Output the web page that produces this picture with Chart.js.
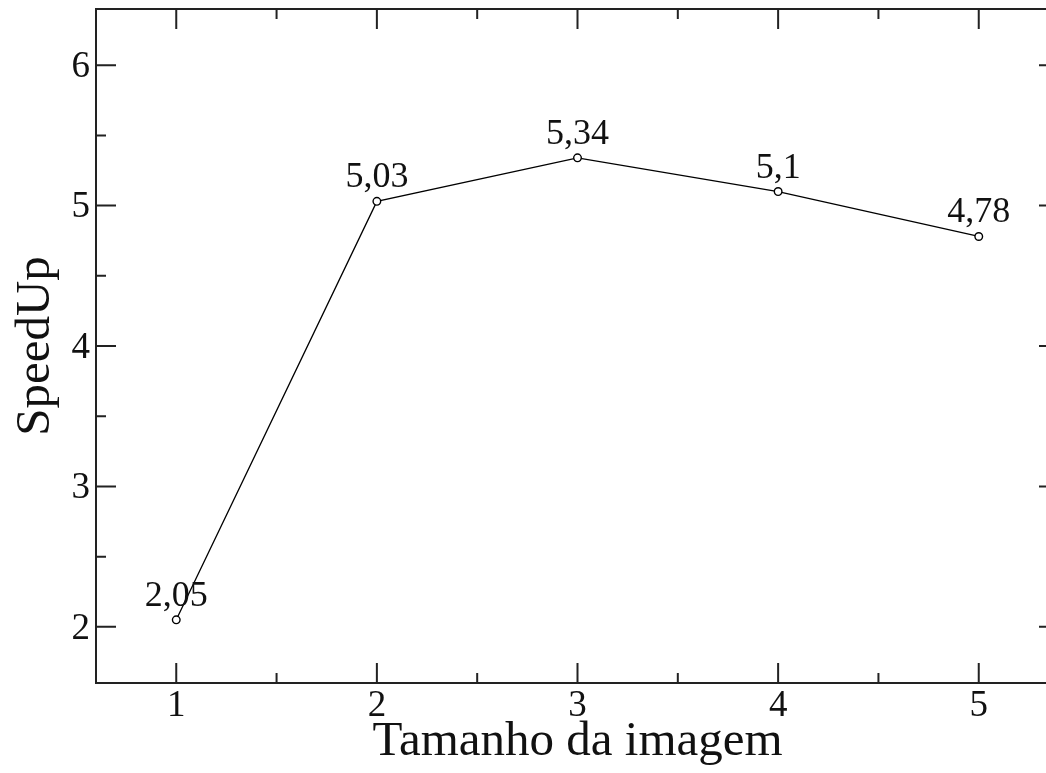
<!DOCTYPE html>
<html>
<head>
<meta charset="utf-8">
<script src="https://cdn.jsdelivr.net/npm/chart.js@4"></script>
<style>
  html, body { margin: 0; padding: 0; background: #fff; overflow: hidden; }
  #wrap { position: absolute; left: 0; top: 0; width: 1070px; height: 773px; }
</style>
</head>
<body>
<div id="wrap"><canvas id="speedup"></canvas></div>
<script>
// data
const sizes = [1, 2, 3, 4, 5];
const speedup = [2.05, 5.03, 5.34, 5.1, 4.78];

// axis ticks
const xTicks = [1, 2, 3, 4, 5];
const yTicks = [2, 3, 4, 5, 6];
const xMinor = [1.5, 2.5, 3.5, 4.5];
const yMinor = [2.5, 3.5, 4.5, 5.5];

const serif = '"Liberation Serif", "DejaVu Serif", serif';
const ink = '#111';

/* frame with inward ticks on all four sides */
const framePlugin = {
    id: 'frame',
    afterDraw(chart) {
        const { ctx, chartArea: a, scales: { x, y } } = chart;
        ctx.save();
        ctx.strokeStyle = '#222';
        ctx.lineWidth = 2;
        ctx.strokeRect(a.left, a.top, a.right - a.left, a.bottom - a.top);

        const tickX = (vals, len) => {
            vals.forEach(v => {
                const px = x.getPixelForValue(v);
                ctx.beginPath();
                ctx.moveTo(px, a.bottom); ctx.lineTo(px, a.bottom - len);
                ctx.moveTo(px, a.top); ctx.lineTo(px, a.top + len);
                ctx.stroke();
            });
        };
        const tickY = (vals, len) => {
            vals.forEach(v => {
                const py = y.getPixelForValue(v);
                ctx.beginPath();
                ctx.moveTo(a.left, py); ctx.lineTo(a.left + len, py);
                ctx.moveTo(a.right, py); ctx.lineTo(a.right - len, py);
                ctx.stroke();
            });
        };
        tickX(xTicks, 20);
        tickX(xMinor, 10);
        tickY(yTicks, 20);
        tickY(yMinor, 10);
        ctx.restore();
    }
};

/* value labels above each point, with decimal comma */
const valueLabels = {
    id: 'valueLabels',
    afterDatasetsDraw(chart) {
        const { ctx } = chart;
        const meta = chart.getDatasetMeta(0);
        ctx.save();
        ctx.font = '36px ' + serif;
        ctx.fillStyle = ink;
        ctx.textAlign = 'center';
        ctx.textBaseline = 'alphabetic';
        meta.data.forEach((pt, i) => {
            const txt = String(speedup[i]).replace('.', ',');
            ctx.fillText(txt, pt.x, pt.y - 14);
        });
        ctx.restore();
    }
};

new Chart(document.getElementById('speedup'), {
    type: 'line',
    data: {
        datasets: [{
            data: sizes.map((s, i) => ({ x: s, y: speedup[i] })),
            borderColor: '#000',
            borderWidth: 1.3,
            pointRadius: 3.8,
            pointBorderWidth: 1.4,
            pointBorderColor: '#000',
            pointBackgroundColor: '#fff',
            tension: 0
        }]
    },
    options: {
        responsive: true,
        maintainAspectRatio: false,
        animation: false,
        layout: { padding: { left: 0, top: 9, right: 11, bottom: 0 } },
        scales: {
            x: {
                type: 'linear',
                min: 0.6,
                max: 5.4,
                afterBuildTicks: s => { s.ticks = xTicks.map(v => ({ value: v })); },
                afterFit: s => { s.height = 90; s.paddingLeft = 0; s.paddingRight = 0; },
                grid: { display: false, drawTicks: false },
                border: { display: false },
                ticks: {
                    color: ink,
                    padding: 5,
                    font: { family: serif, size: 37, lineHeight: 1 }
                },
                title: {
                    display: true,
                    text: 'Tamanho da imagem',
                    color: ink,
                    padding: { top: 0, bottom: 6 },
                    font: { family: serif, size: 49, lineHeight: 1 }
                }
            },
            y: {
                min: 1.6,
                max: 6.4,
                afterBuildTicks: s => { s.ticks = yTicks.map(v => ({ value: v })); },
                afterFit: s => { s.width = 96; s.paddingTop = 0; s.paddingBottom = 0; },
                grid: { display: false, drawTicks: false },
                border: { display: false },
                ticks: {
                    color: ink,
                    padding: 6,
                    labelOffset: 2,
                    font: { family: serif, size: 37, lineHeight: 1 }
                },
                title: {
                    display: true,
                    text: 'SpeedUp',
                    color: ink,
                    padding: { top: 12, bottom: 0 },
                    font: { family: serif, size: 49, lineHeight: 1 }
                }
            }
        },
        plugins: {
            legend: { display: false },
            tooltip: { enabled: false }
        }
    },
    plugins: [framePlugin, valueLabels]
});
</script>
</body>
</html>
